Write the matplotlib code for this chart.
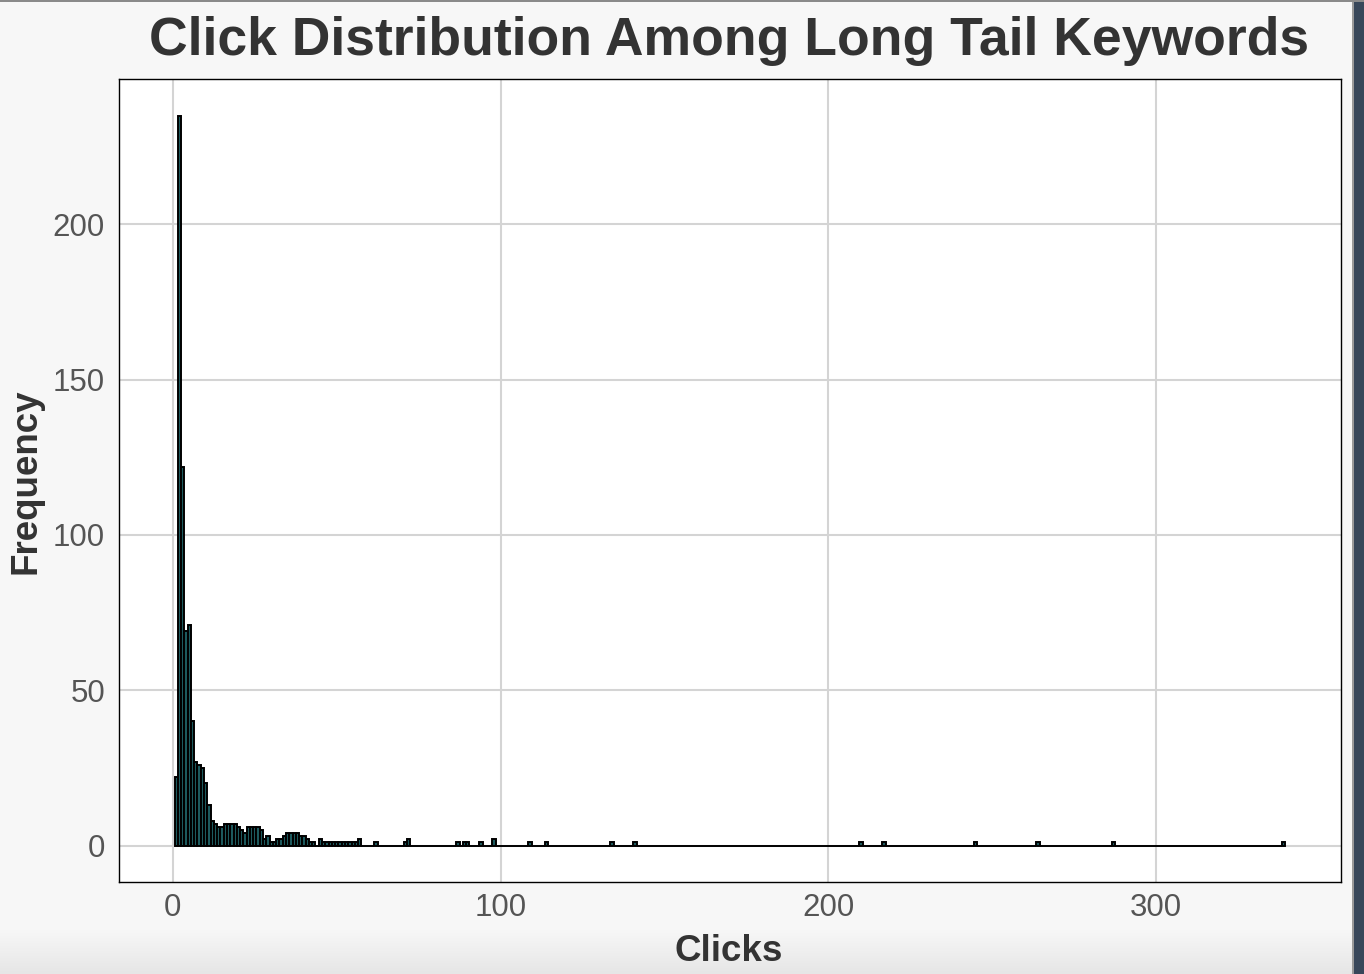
import numpy as np
import matplotlib
matplotlib.use("Agg")
import matplotlib.pyplot as plt
from matplotlib.patches import Rectangle
from matplotlib.colors import LinearSegmentedColormap

plt.rcParams['font.family'] = ['Liberation Sans', 'DejaVu Sans']

# histogram bins (clicks, binwidth 1) with a non-zero count
click_bins = [1, 2, 3, 4, 5, 6, 7, 8, 9, 10,
              11, 12, 13, 14, 15, 16, 17, 18, 19, 20,
              21, 22, 23, 24, 25, 26, 27, 28, 29, 30,
              31, 32, 33, 34, 35, 36, 37, 38, 39, 40,
              41, 42, 43, 45, 46, 47, 48, 49, 50, 51,
              52, 53, 54, 55, 56, 57, 62, 71, 72, 87,
              89, 90, 94, 98, 109, 114, 134, 141, 210, 217,
              245, 264, 287, 339]
freq = [22, 235, 122, 69, 71, 40, 27, 26, 25, 20,
        13, 8, 7, 6, 6, 7, 7, 7, 7, 6,
        5, 4, 6, 6, 6, 6, 5, 2, 3, 1,
        1, 2, 2, 3, 4, 4, 4, 4, 3, 3,
        2, 1, 1, 2, 1, 1, 1, 1, 1, 1,
        1, 1, 1, 1, 1, 2, 1, 1, 2, 1,
        1, 1, 1, 2, 1, 1, 1, 1, 1, 1,
        1, 1, 1, 1]
min_click, max_click = 1, 339

x_ticks = [0, 100, 200, 300]
y_ticks = [0, 50, 100, 150, 200]

# empty bins are drawn too (they show up as the black line along zero)
all_bins = np.arange(min_click, max_click + 1)
counts = np.zeros(len(all_bins))
counts[np.array(click_bins) - min_click] = freq

fig = plt.figure(figsize=(13.64, 9.74), dpi=100)
fig.patch.set_facecolor('#f7f7f7')

# screenshot frame bits: soft gradient at the bottom, dark strip on the right
fade = LinearSegmentedColormap.from_list('fade', ['#f7f7f7', '#e6e6e6'])
grad = fig.add_axes([0, 0, 1, 0.045], zorder=-5)
grad.imshow(np.linspace(0, 1, 50).reshape(-1, 1), cmap=fade, aspect='auto',
            extent=[0, 1, 0, 1], origin='upper')
grad.set_axis_off()
fig.patches.append(Rectangle((1354 / 1364, 0), 10 / 1364, 1, transform=fig.transFigure,
                             facecolor='#38475a', edgecolor='none', zorder=-4))
fig.patches.append(Rectangle((1352 / 1364, 0), 2 / 1364, 1, transform=fig.transFigure,
                             facecolor='#9a9a9a', edgecolor='none', zorder=-4))
fig.patches.append(Rectangle((0, 1 - 2 / 974), 1, 2 / 974, transform=fig.transFigure,
                             facecolor='#8a8a8a', edgecolor='none', zorder=-4))

ax = fig.add_axes([119 / 1364, 1 - 882 / 974, 1222 / 1364, 803 / 974])
ax.set_facecolor('white')

ax.bar(all_bins, counts, width=1, align='center', color='#1d5a5e',
       edgecolor='black', linewidth=1.4, zorder=3)

# ggplot-like 5% expansion
xr = max_click - min_click + 1
ax.set_xlim(min_click - 0.5 - 0.05 * xr, max_click + 0.5 + 0.05 * xr)
ymax = max(freq)
ax.set_ylim(-0.05 * ymax, 1.05 * ymax)

ax.set_xticks(x_ticks)
ax.set_yticks(y_ticks)
ax.grid(True, color='#d4d4d4', linewidth=1.5, zorder=0)
ax.set_axisbelow(True)
ax.tick_params(length=0, labelsize=22.5, labelcolor='#555555')
ax.tick_params(axis='x', pad=8)
ax.tick_params(axis='y', pad=10)
for s in ax.spines.values():
    s.set_color('black')
    s.set_linewidth(1.0)

fig.text(729 / 1364, 1 - 55 / 974, 'Click Distribution Among Long Tail Keywords',
         ha='center', va='baseline', fontsize=38.5, fontweight='bold', color='#333333')
fig.text(729 / 1364, 1 - 961 / 974, 'Clicks', ha='center', va='baseline',
         fontsize=26.5, fontweight='bold', color='#333333')
fig.text(26 / 1364, 1 - 481 / 974, 'Frequency', ha='center', va='center', rotation=90,
         fontsize=26.5, fontweight='bold', color='#333333')

fig.savefig('out.png', dpi=100, facecolor=fig.get_facecolor())
